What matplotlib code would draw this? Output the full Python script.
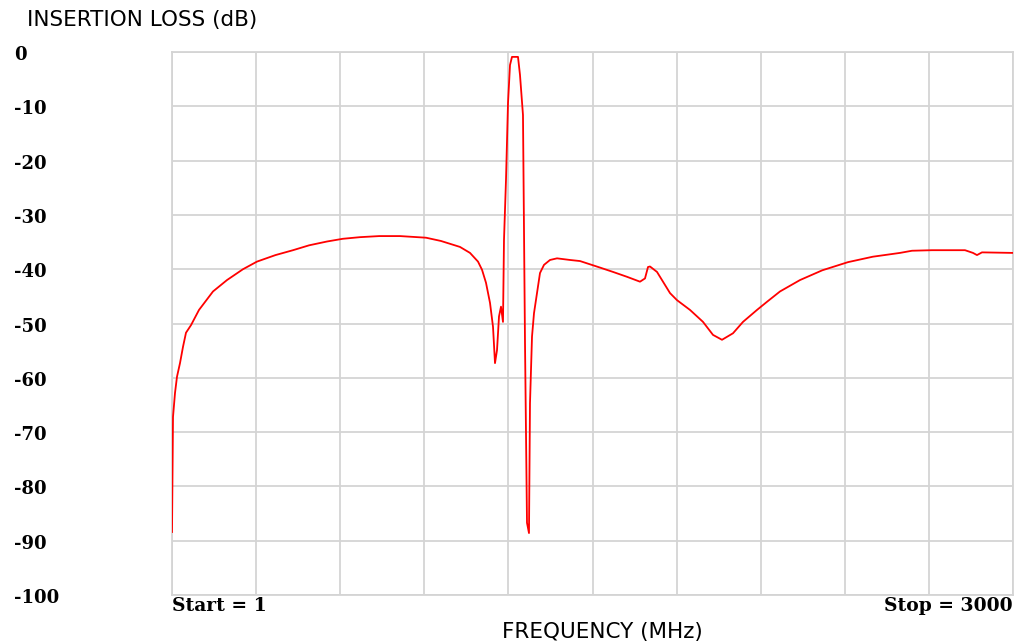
import numpy as np
import matplotlib
matplotlib.use("Agg")
import matplotlib.pyplot as plt
import matplotlib.transforms as mtransforms

# Trace (frequency in MHz, insertion loss in dB)
freq = [1, 4.6, 11.7, 18.8, 29.5, 40.2, 50.9, 68.8, 97.3, 147.2, 197.1, 254.2,
        304.1, 370, 432.5, 490, 553.7, 610, 671.4, 740, 814, 906.8, 960, 1028,
        1063.7, 1092.2, 1106.5,
        1120.7, 1135, 1145.7, 1152.8, 1160, 1167.1, 1174.2, 1181.3, 1184.9,
        1192, 1199.2, 1206.3, 1213.4, 1234.8, 1241.9, 1252.6, 1259.8, 1266.9,
        1274, 1277.6, 1284.8, 1291.9, 1302.6, 1313.3, 1327.6, 1349, 1374,
        1420.3, 1456, 1527.2, 1573.6, 1623.5, 1669.9, 1687.7, 1698.4, 1705.5,
        1730.5, 1751.9, 1776.9, 1801.8, 1848.2, 1894.5, 1930.2, 1962.3, 2001.5,
        2037.2, 2087.1, 2122.8, 2169.1, 2240.4, 2320, 2411.6, 2500, 2597,
        2639.8, 2711.1, 2828.8, 2857.3, 2871.6, 2889.4, 3000]
loss = [-88.4, -67.2, -62.8, -59.8, -57.3, -54.3, -51.7, -50.3, -47.5, -44.1,
        -42.0, -40.0, -38.6, -37.4, -36.5, -35.6, -34.9, -34.4, -34.1, -33.9,
        -33.9, -34.2, -34.8, -35.9, -37.0, -38.6, -40.1, -42.5, -46.2, -50.6,
        -57.3, -54.9, -48.7, -46.9, -49.7, -34.6, -23.6, -9.4, -2.4, -0.9,
        -0.9, -4.2, -11.6, -53.6, -86.7, -88.6, -64.7, -52.4, -48.1, -44.4,
        -40.7, -39.2, -38.3, -38.0, -38.3, -38.5, -39.7, -40.5, -41.4, -42.3,
        -41.7, -39.6, -39.5, -40.5, -42.3, -44.4, -45.7, -47.5, -49.7, -52.1,
        -53.0, -51.8, -49.7, -47.5, -46.0, -44.1, -42.0, -40.2, -38.7, -37.7,
        -37.0, -36.6, -36.5, -36.5, -37.0, -37.4, -36.9, -37.0]

y_ticks = list(range(0, -101, -10))
x_grid = np.linspace(1, 3000, 11)

fig = plt.figure(figsize=(10.18, 6.43), dpi=100)
ax = fig.add_axes([172 / 1018, 1 - 595 / 643, 841 / 1018, 543 / 643])

grid_col = '#d4d4d4'
ax.plot(freq, loss, color='red', linewidth=1.3, zorder=3)

ax.set_xlim(1, 3000)
ax.set_ylim(-100, 0)
ax.set_xticks(x_grid)
ax.set_yticks(y_ticks)
ax.grid(True, color=grid_col, linewidth=1.3)
ax.tick_params(length=0, labelbottom=False, labelleft=False)
for sp in ax.spines.values():
    sp.set_color(grid_col)
    sp.set_linewidth(1.3)

# y labels left-aligned at the image edge, a touch below their grid lines
trans = mtransforms.blended_transform_factory(fig.transFigure, ax.transData)
trans = trans + mtransforms.ScaledTranslation(0, -3 / 100, fig.dpi_scale_trans)
for v in y_ticks:
    ax.text(14 / 1018, v, str(v), transform=trans, family='DejaVu Serif',
            fontweight='bold', fontsize=13, ha='left', va='center')

fig.text(27 / 1018, 1 - 20 / 643, 'INSERTION LOSS (dB)', family='DejaVu Sans',
         fontsize=15.5, ha='left', va='center')
fig.text(602 / 1018, 1 - 632 / 643, 'FREQUENCY (MHz)', family='DejaVu Sans',
         fontsize=15.5, ha='center', va='center')
fig.text(172 / 1018, 1 - 606 / 643, 'Start = 1', family='DejaVu Serif',
         fontweight='bold', fontsize=13.5, ha='left', va='center')
fig.text(1013 / 1018, 1 - 606 / 643, 'Stop = 3000', family='DejaVu Serif',
         fontweight='bold', fontsize=13.5, ha='right', va='center')

fig.savefig('out.png', dpi=100)
